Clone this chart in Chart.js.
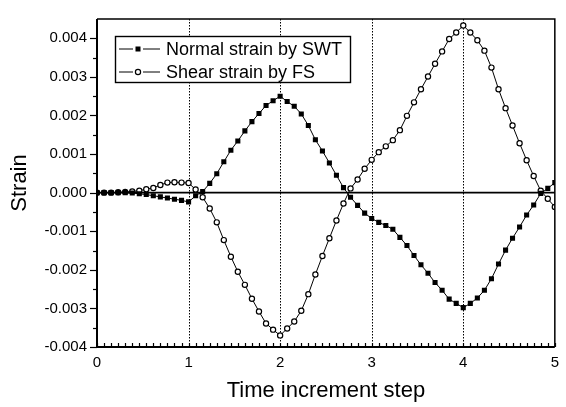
<!DOCTYPE html>
<html><head><meta charset="utf-8">
<script src="https://cdn.jsdelivr.net/npm/chart.js@4.4.0/dist/chart.umd.min.js"></script>
<style>html,body{margin:0;padding:0;background:#fff}</style>
</head><body>
<canvas id="c" width="566" height="407"></canvas>
<script>
// ---- data ----
const timeSteps = [0,0.077,0.154,0.231,0.308,0.385,0.462,0.538,0.615,0.692,0.769,0.846,0.923,1,
1.077,1.154,1.231,1.308,1.385,1.462,1.538,1.615,1.692,1.769,1.846,1.923,2,
2.077,2.154,2.231,2.308,2.385,2.462,2.538,2.615,2.692,2.769,2.846,2.923,3,
3.077,3.154,3.231,3.308,3.385,3.462,3.538,3.615,3.692,3.769,3.846,3.923,4,
4.077,4.154,4.231,4.308,4.385,4.462,4.538,4.615,4.692,4.769,4.846,4.923,5];

const normalStrain = [0,0,0,0,0,-0.00001,-0.00003,-0.00005,-0.00008,-0.00011,-0.00014,-0.00017,-0.00020,-0.00024,
-0.00008,0.00003,0.00024,0.00049,0.00080,0.00110,0.00134,0.00160,0.00184,0.00205,0.00226,0.00238,0.00250,
0.00236,0.00224,0.00204,0.00174,0.00137,0.00108,0.00077,0.00045,0.00013,-0.00012,-0.00033,-0.00053,-0.00067,
-0.00077,-0.00085,-0.00095,-0.00116,-0.00137,-0.00163,-0.00187,-0.00209,-0.00233,-0.00253,-0.00276,-0.00287,-0.00298,
-0.00287,-0.00273,-0.00253,-0.00223,-0.00185,-0.00149,-0.00118,-0.00089,-0.00058,-0.00032,-0.00002,0.00011,0.00026];

const shearStrain = [0,0,0,0.00001,0.00002,0.00003,0.00005,0.00009,0.00012,0.00020,0.00026,0.00027,0.00026,0.00025,
0.00008,-0.00012,-0.00041,-0.00077,-0.00123,-0.00166,-0.00205,-0.00239,-0.00275,-0.00308,-0.00339,-0.00355,-0.00370,
-0.00352,-0.00334,-0.00306,-0.00263,-0.00212,-0.00164,-0.00118,-0.00072,-0.00028,0.00011,0.00034,0.00062,0.00085,
0.00105,0.00120,0.00136,0.00162,0.00199,0.00234,0.00268,0.00301,0.00334,0.00366,0.00398,0.00415,0.00433,
0.00415,0.00395,0.00368,0.00324,0.00268,0.00219,0.00174,0.00128,0.00084,0.00043,0.00005,-0.00016,-0.00037];

const xTicks = [0,1,2,3,4,5];
const yTicks = [-0.004,-0.003,-0.002,-0.001,0,0.001,0.002,0.003,0.004];
const dottedAt = [1,2,3,4];
const seriesLabels = ['Normal strain by SWT','Shear strain by FS'];

const FONT = "'Liberation Sans', Arial, sans-serif";

const decor = {
  id: 'decor',
  beforeDatasetsDraw(chart) {
    const {ctx, chartArea: a, scales: {x, y}} = chart;
    ctx.save();
    ctx.strokeStyle = '#000';
    ctx.lineWidth = 1;
    ctx.setLineDash([1.5, 1.5]);
    dottedAt.forEach(v => {
      const px = Math.round(x.getPixelForValue(v)) + 0.5;
      ctx.beginPath(); ctx.moveTo(px, a.top); ctx.lineTo(px, a.bottom); ctx.stroke();
    });
    ctx.setLineDash([]);
    ctx.lineWidth = 1.6;
    const py0 = y.getPixelForValue(0);
    ctx.beginPath(); ctx.moveTo(a.left, py0); ctx.lineTo(a.right, py0); ctx.stroke();
    ctx.restore();
  },
  afterDatasetsDraw(chart) {
    const {ctx, chartArea: a, scales: {x, y}} = chart;
    ctx.save();
    ctx.strokeStyle = '#000';
    // frame
    ctx.lineWidth = 1.5;
    ctx.beginPath(); ctx.moveTo(a.left, a.top); ctx.lineTo(a.right, a.top); ctx.lineTo(a.right, a.bottom); ctx.stroke();
    ctx.lineWidth = 2;
    ctx.beginPath(); ctx.moveTo(a.left, a.top); ctx.lineTo(a.left, a.bottom); ctx.lineTo(a.right, a.bottom); ctx.stroke();
    // y ticks (outward)
    ctx.lineWidth = 1.2;
    yTicks.forEach(v => {
      const py = Math.round(y.getPixelForValue(v)) + 0.5;
      ctx.beginPath(); ctx.moveTo(a.left - 7, py); ctx.lineTo(a.left, py); ctx.stroke();
      const m = v + 0.0005;
      if (m < y.max) {
        const pm = Math.round(y.getPixelForValue(m)) + 0.5;
        ctx.beginPath(); ctx.moveTo(a.left - 4, pm); ctx.lineTo(a.left, pm); ctx.stroke();
      }
    });
    // x ticks (inward)
    timeSteps.forEach(v => {
      const px = Math.round(x.getPixelForValue(v)) + 0.5;
      ctx.beginPath(); ctx.moveTo(px, a.bottom); ctx.lineTo(px, a.bottom - 4); ctx.stroke();
    });
    // legend
    const lx = a.left + 18, ly = a.top + 17, lw = 235, lh = 46;
    ctx.fillStyle = '#fff';
    ctx.fillRect(lx, ly, lw, lh);
    ctx.lineWidth = 1.4;
    ctx.strokeRect(lx + 0.5, ly + 0.5, lw, lh);
    chart.data.datasets.forEach((ds, i) => {
      const ry = ly + 13 + i * 23;
      ctx.lineWidth = 1;
      ctx.beginPath();
      ctx.moveTo(lx + 4, ry); ctx.lineTo(lx + 18, ry);
      ctx.moveTo(lx + 28, ry); ctx.lineTo(lx + 45, ry);
      ctx.stroke();
      const cx = lx + 23;
      if (ds.pointStyle === 'rect') {
        ctx.fillStyle = '#000';
        ctx.fillRect(cx - 2.5, ry - 2.5, 5, 5);
      } else {
        ctx.fillStyle = '#fff';
        ctx.lineWidth = 1.2;
        ctx.beginPath(); ctx.arc(cx, ry, 2.6, 0, Math.PI * 2); ctx.fill(); ctx.stroke();
      }
      ctx.fillStyle = '#000';
      ctx.font = '18px ' + FONT;
      ctx.textBaseline = 'middle';
      ctx.textAlign = 'left';
      ctx.fillText(ds.label, lx + 51, ry + 1);
    });
    ctx.restore();
  }
};

new Chart(document.getElementById('c'), {
  type: 'line',
  data: {
    datasets: [
      {
        label: seriesLabels[0],
        data: timeSteps.map((t, i) => ({x: t, y: normalStrain[i]})),
        borderColor: '#000', borderWidth: 1, tension: 0,
        pointStyle: 'rect', pointRadius: 3.6,
        pointBackgroundColor: '#000', pointBorderColor: '#000', pointBorderWidth: 0
      },
      {
        label: seriesLabels[1],
        data: timeSteps.map((t, i) => ({x: t, y: shearStrain[i]})),
        borderColor: '#000', borderWidth: 1, tension: 0,
        pointStyle: 'circle', pointRadius: 2.6,
        pointBackgroundColor: '#fff', pointBorderColor: '#000', pointBorderWidth: 1.2
      }
    ]
  },
  options: {
    responsive: false,
    animation: false,
    layout: {padding: {top: 7, right: 9, left: 0, bottom: 0}},
    plugins: {legend: {display: false}, tooltip: {enabled: false}},
    scales: {
      x: {
        type: 'linear', min: 0, max: 5,
        afterBuildTicks: s => { s.ticks = xTicks.map(v => ({value: v})); },
        afterFit: s => { s.height = 60; },
        grid: {display: false, drawTicks: false}, border: {display: false},
        ticks: {color: '#000', font: {family: FONT, size: 15}, padding: 7, maxRotation: 0,
                callback: v => String(v)},
        title: {display: true, text: 'Time increment step', color: '#000',
                font: {family: FONT, size: 22}, padding: 3}
      },
      y: {
        type: 'linear', min: -0.004, max: 0.0045,
        afterBuildTicks: s => { s.ticks = yTicks.map(v => ({value: v})); },
        afterFit: s => { s.width = 97; },
        grid: {display: false, drawTicks: false}, border: {display: false},
        ticks: {color: '#000', font: {family: FONT, size: 15}, padding: 10,
                callback: v => v.toFixed(3)},
        title: {display: true, text: 'Strain', color: '#000',
                font: {family: FONT, size: 22}, padding: 7}
      }
    }
  },
  plugins: [decor]
});
</script>
</body></html>
